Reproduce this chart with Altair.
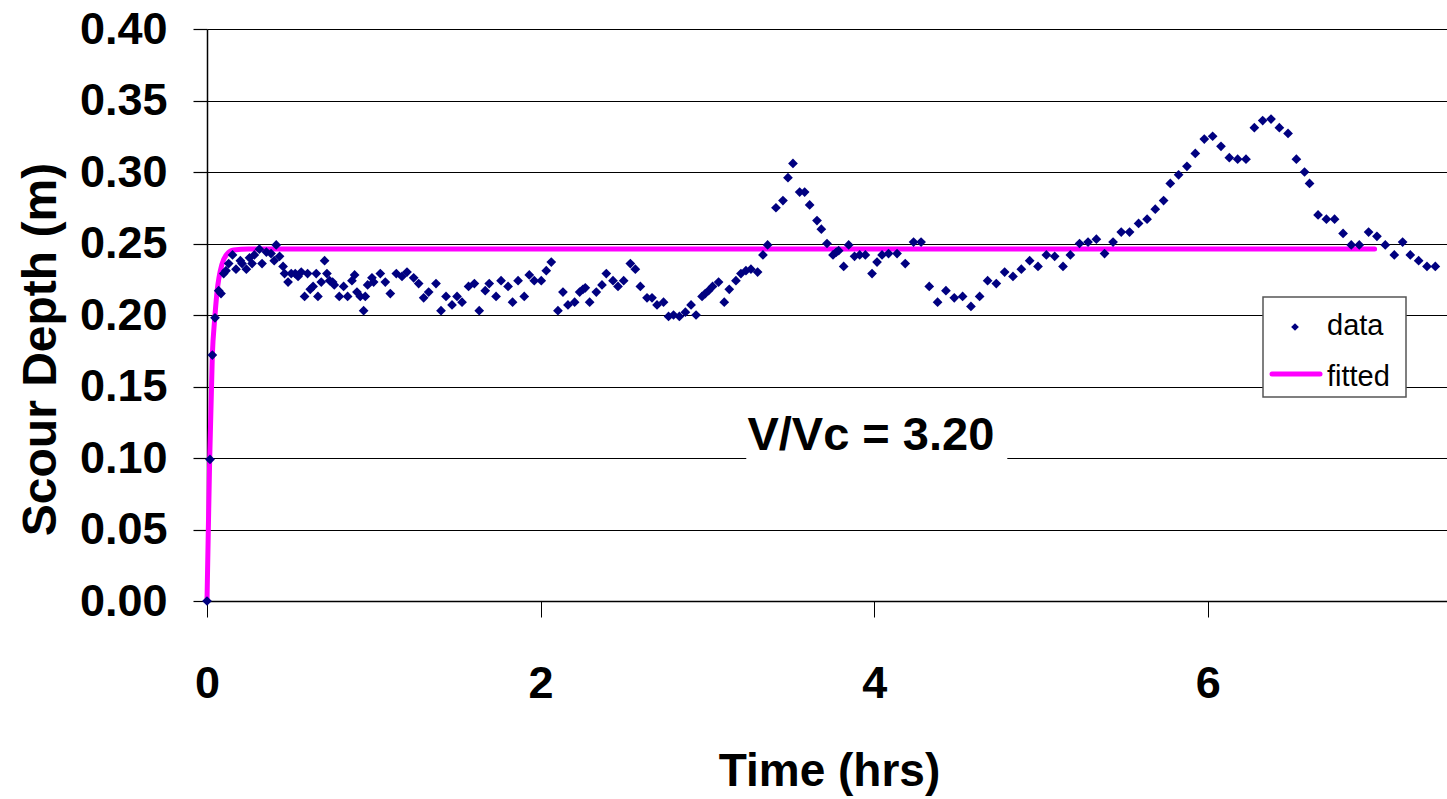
import altair as alt
import pandas as pd

# Measured scour depth (m) against elapsed time (hrs)
time_hrs = [
    0.000, 0.018, 0.032, 0.048, 0.070, 0.084, 0.100, 0.114, 0.130, 0.153,
    0.174, 0.200, 0.210, 0.236, 0.255, 0.270, 0.284, 0.314, 0.330, 0.356,
    0.384, 0.403, 0.415, 0.435, 0.456, 0.465, 0.486, 0.505, 0.529, 0.546,
    0.565, 0.585, 0.603, 0.619, 0.636, 0.655, 0.665, 0.685, 0.705, 0.719,
    0.735, 0.753, 0.763, 0.793, 0.819, 0.843, 0.869, 0.885, 0.899, 0.919,
    0.939, 0.949, 0.963, 0.989, 0.999, 1.039, 1.069, 1.099, 1.135, 1.169,
    1.199, 1.239, 1.269, 1.299, 1.329, 1.373, 1.403, 1.433, 1.469, 1.499,
    1.529, 1.568, 1.603, 1.632, 1.668, 1.692, 1.733, 1.763, 1.805, 1.832,
    1.865, 1.902, 1.932, 1.962, 2.004, 2.034, 2.064, 2.104, 2.134, 2.164,
    2.204, 2.234, 2.254, 2.268, 2.294, 2.334, 2.368, 2.394, 2.434, 2.464,
    2.498, 2.538, 2.568, 2.598, 2.638, 2.668, 2.698, 2.737, 2.767, 2.797,
    2.832, 2.868, 2.902, 2.932, 2.968, 2.987, 3.007, 3.031, 3.067, 3.101,
    3.131, 3.171, 3.201, 3.231, 3.261, 3.301, 3.333, 3.361, 3.411, 3.453,
    3.483, 3.513, 3.553, 3.583, 3.613, 3.657, 3.683, 3.717, 3.753, 3.773,
    3.787, 3.817, 3.847, 3.882, 3.913, 3.947, 3.987, 4.017, 4.047, 4.086,
    4.137, 4.186, 4.236, 4.281, 4.330, 4.380, 4.430, 4.480, 4.530, 4.580,
    4.632, 4.680, 4.732, 4.782, 4.832, 4.882, 4.932, 4.982, 5.032, 5.082,
    5.132, 5.176, 5.231, 5.282, 5.332, 5.381, 5.432, 5.481, 5.531, 5.585,
    5.636, 5.685, 5.735, 5.775, 5.825, 5.875, 5.925, 5.979, 6.029, 6.079,
    6.129, 6.179, 6.229, 6.279, 6.329, 6.379, 6.429, 6.481, 6.531, 6.580,
    6.610, 6.661, 6.711, 6.760, 6.811, 6.860, 6.908, 6.964, 7.014, 7.064,
    7.118, 7.168, 7.214, 7.264, 7.314, 7.364,
]
scour_depth = [
    0.000, 0.099, 0.172, 0.198, 0.217, 0.215, 0.229, 0.231, 0.236, 0.242,
    0.232, 0.238, 0.236, 0.232, 0.240, 0.236, 0.242, 0.246, 0.236, 0.244,
    0.243, 0.238, 0.249, 0.241, 0.234, 0.229, 0.223, 0.229, 0.229, 0.227,
    0.230, 0.213, 0.229, 0.218, 0.220, 0.229, 0.213, 0.223, 0.238, 0.229,
    0.224, 0.223, 0.221, 0.213, 0.220, 0.213, 0.224, 0.228, 0.216, 0.213,
    0.203, 0.213, 0.221, 0.226, 0.223, 0.229, 0.223, 0.215, 0.229, 0.227,
    0.230, 0.226, 0.222, 0.212, 0.216, 0.222, 0.203, 0.213, 0.207, 0.213,
    0.209, 0.220, 0.222, 0.203, 0.217, 0.222, 0.213, 0.224, 0.220, 0.209,
    0.224, 0.213, 0.228, 0.224, 0.224, 0.231, 0.237, 0.203, 0.216, 0.207,
    0.209, 0.216, 0.218, 0.219, 0.209, 0.216, 0.221, 0.229, 0.224, 0.220,
    0.224, 0.236, 0.232, 0.220, 0.212, 0.212, 0.207, 0.209, 0.199, 0.200,
    0.199, 0.202, 0.207, 0.200, 0.213, 0.215, 0.217, 0.220, 0.223, 0.209,
    0.218, 0.224, 0.229, 0.231, 0.232, 0.230, 0.242, 0.249, 0.275, 0.280,
    0.296, 0.306, 0.286, 0.286, 0.277, 0.266, 0.260, 0.250, 0.242, 0.244,
    0.245, 0.234, 0.249, 0.241, 0.242, 0.242, 0.229, 0.237, 0.242, 0.243,
    0.243, 0.236, 0.251, 0.251, 0.220, 0.209, 0.217, 0.212, 0.213, 0.206,
    0.213, 0.224, 0.222, 0.230, 0.227, 0.232, 0.238, 0.234, 0.242, 0.241,
    0.234, 0.242, 0.250, 0.251, 0.253, 0.243, 0.251, 0.258, 0.258, 0.264,
    0.267, 0.274, 0.280, 0.292, 0.298, 0.304, 0.313, 0.323, 0.325, 0.318,
    0.310, 0.309, 0.309, 0.331, 0.336, 0.337, 0.331, 0.327, 0.309, 0.300,
    0.292, 0.270, 0.267, 0.267, 0.257, 0.249, 0.249, 0.258, 0.255, 0.249,
    0.242, 0.251, 0.242, 0.238, 0.234, 0.234,
]

# Fitted scour-development curve
fit_time = [0.0, 0.008, 0.016, 0.032, 0.046, 0.060, 0.090, 0.120, 0.160, 0.250, 7.0]
fit_depth = [0.0, 0.050, 0.099, 0.172, 0.197, 0.216, 0.2356, 0.2426, 0.2455, 0.2462, 0.2462]

# Annotation text and the white panel behind it
note_text = ["V/Vc = 3.20"]
note_time = [3.98]
note_depth = [0.1152]
note_box = {"t0": [3.233], "t1": [4.798], "d0": [0.092], "d1": [0.135]}

y_ticks = [0.0, 0.05, 0.10, 0.15, 0.20, 0.25, 0.30, 0.35, 0.40]
x_ticks = [0, 2, 4, 6]

legend_labels = ["data", "fitted"]

FONT = "Liberation Sans"
NAVY = "#000080"
MAGENTA = "#FF00FF"

data_df = pd.DataFrame({"time": time_hrs, "depth": scour_depth})
fit_df = pd.DataFrame({"time": fit_time, "depth": fit_depth})
note_df = pd.DataFrame({"label": note_text, "time": note_time, "depth": note_depth})
box_df = pd.DataFrame(note_box)

x_scale = alt.Scale(domain=[0, 7.434], nice=False, zero=False)
y_scale = alt.Scale(domain=[0, 0.4], nice=False)

x_axis = alt.Axis(
    values=x_ticks, format="d", grid=False, labelFlush=False,
    labelFont=FONT, labelFontWeight="bold", labelFontSize=45, labelColor="black",
    labelPadding=44, tickSize=16, tickColor="black", tickWidth=1,
    domainColor="black", domainWidth=1.5,
    title="Time (hrs)", titleFont=FONT, titleFontWeight="bold", titleFontSize=46,
    titleColor="black", titleX=622, titleY=184, titleBaseline="alphabetic",
)
y_axis = alt.Axis(
    values=y_ticks, format=".2f", grid=True, gridColor="black", gridWidth=1.2,
    labelFlush=False,
    labelFont=FONT, labelFontWeight="bold", labelFontSize=45, labelColor="black",
    labelPadding=26, tickSize=14, tickColor="black", tickWidth=1.2,
    domainColor="black", domainWidth=1.5,
    title="Scour Depth (m)", titleFont=FONT, titleFontWeight="bold", titleFontSize=48,
    titleColor="black", titleAngle=270, titleX=-152, titleY=320,
    titleBaseline="alphabetic", titleAlign="center",
)

box = alt.Chart(box_df).mark_rect(color="white").encode(
    x=alt.X("t0:Q", scale=x_scale, axis=x_axis),
    x2="t1:Q",
    y=alt.Y("d0:Q", scale=y_scale, axis=y_axis),
    y2="d1:Q",
)

note = alt.Chart(note_df).mark_text(
    font=FONT, fontWeight="bold", fontSize=47, color="black", baseline="middle"
).encode(x="time:Q", y="depth:Q", text="label:N")

fit_line = alt.Chart(fit_df).mark_line(
    color=MAGENTA, strokeWidth=5, strokeCap="round", interpolate="monotone"
).encode(x="time:Q", y="depth:Q")

points = alt.Chart(data_df).mark_point(
    shape="diamond", filled=True, color=NAVY, size=95, opacity=1
).encode(x="time:Q", y="depth:Q")

# Legend panel (upper right of the lower half)
one = pd.DataFrame({"k": [0]})
leg_box = alt.Chart(one).mark_rect(fill="white", stroke="#555555", strokeWidth=1.5).encode(
    x=alt.value(1056), x2=alt.value(1199), y=alt.value(268), y2=alt.value(368)
)
leg_dot = alt.Chart(one).mark_point(shape="diamond", filled=True, color=NAVY, size=60, opacity=1).encode(
    x=alt.value(1088), y=alt.value(298)
)
leg_line = alt.Chart(one).mark_rule(color=MAGENTA, strokeWidth=5, strokeCap="round").encode(
    x=alt.value(1065), x2=alt.value(1113), y=alt.value(345)
)
leg_text = alt.Chart(pd.DataFrame({"label": legend_labels, "ypos": [306, 357]})).mark_text(
    font=FONT, fontSize=29, color="black", align="left", baseline="alphabetic"
).encode(x=alt.value(1120), y=alt.Y("ypos:Q", scale=None), text="label:N")

chart = alt.layer(
    box, note, fit_line, points, leg_box, leg_dot, leg_line, leg_text
).properties(
    width=1240, height=572,
    autosize=alt.AutoSizeParams(type="none"),
    padding={"left": 207, "top": 29, "right": 0, "bottom": 198},
    background="white",
).configure_view(stroke=None)

chart.save("out.html", embed_options={"renderer": "svg", "actions": False})
